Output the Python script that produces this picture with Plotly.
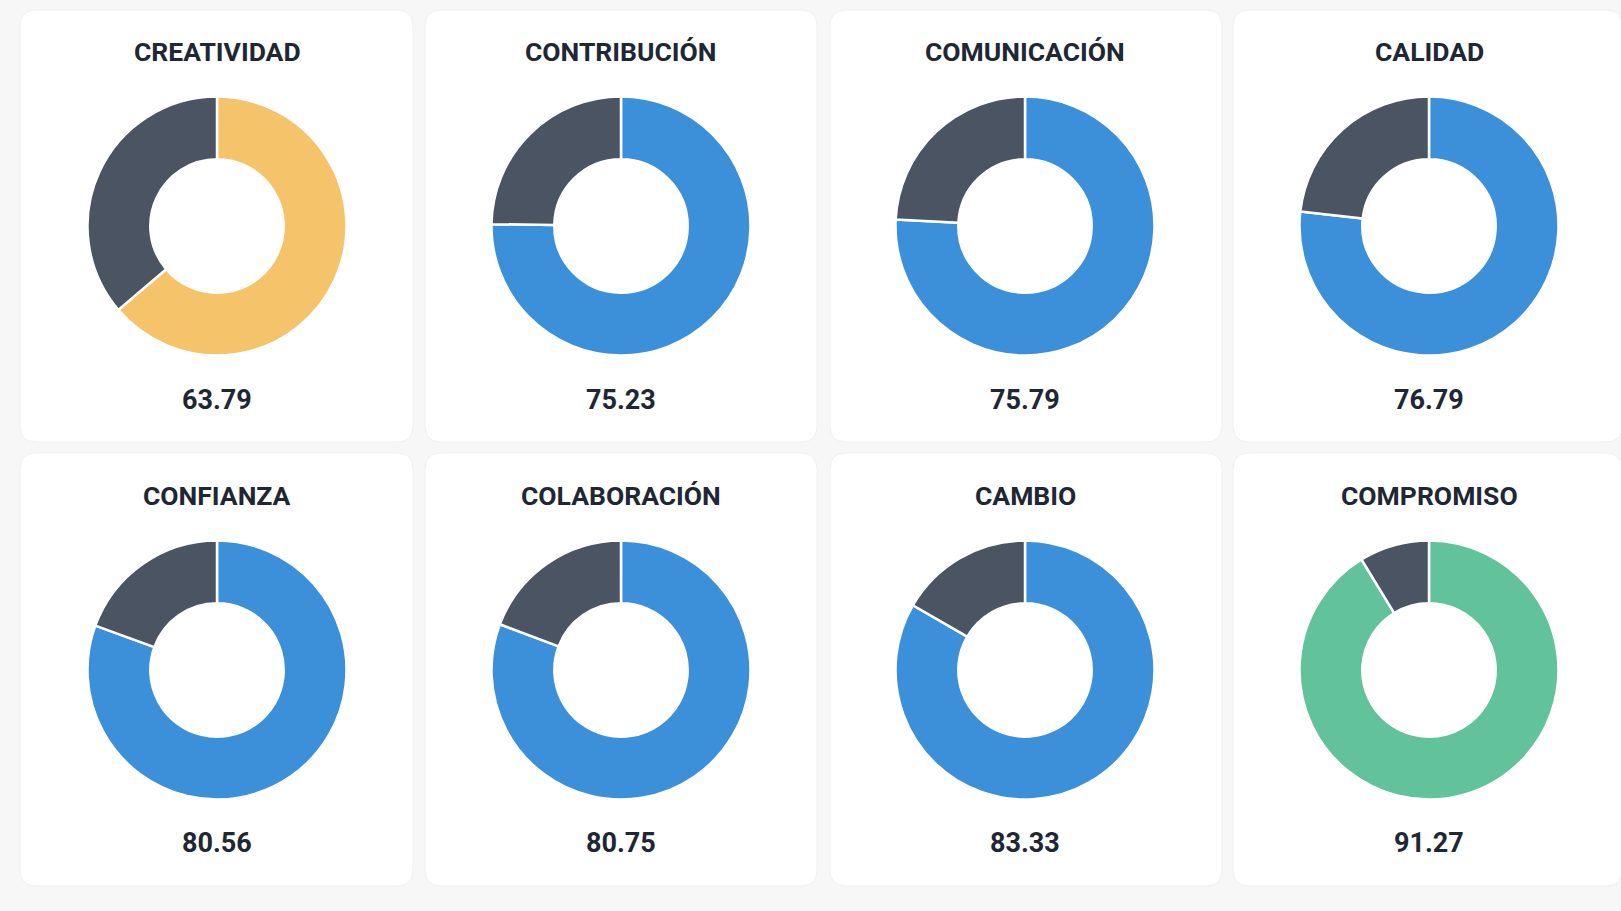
import plotly.graph_objects as go

W, H = 1621, 911

categories = ["CREATIVIDAD", "CONTRIBUCIÓN", "COMUNICACIÓN", "CALIDAD",
              "CONFIANZA", "COLABORACIÓN", "CAMBIO", "COMPROMISO"]
scores = [63.79, 75.23, 75.79, 76.79, 80.56, 80.75, 83.33, 91.27]
score_labels = ["63.79", "75.23", "75.79", "76.79", "80.56", "80.75", "83.33", "91.27"]
score_colors = ["#f5c46a", "#3b90d9", "#3b90d9", "#3b90d9",
                "#3b90d9", "#3b90d9", "#3b90d9", "#62c29c"]
rest_color = "#4a5462"

# layout (pixels)
card_left = [20, 425, 830, 1233]
card_right = [413, 817, 1222, 1622]
col_center = [217, 621, 1025, 1429]
row_top = [10, 453]
row_bottom = [442, 886]
title_y = [52, 495]
donut_cy = [226, 670]
value_y = [400, 843]
R = 129.5

def px(x):
    return x / W

def py(y):
    return 1 - y / H

fig = go.Figure()
shapes = []
annotations = []

def rounded_rect(x0, y0, x1, y1, r):
    return (f"M {px(x0 + r)},{py(y0)} L {px(x1 - r)},{py(y0)} "
            f"Q {px(x1)},{py(y0)} {px(x1)},{py(y0 + r)} "
            f"L {px(x1)},{py(y1 - r)} Q {px(x1)},{py(y1)} {px(x1 - r)},{py(y1)} "
            f"L {px(x0 + r)},{py(y1)} Q {px(x0)},{py(y1)} {px(x0)},{py(y1 - r)} "
            f"L {px(x0)},{py(y0 + r)} Q {px(x0)},{py(y0)} {px(x0 + r)},{py(y0)} Z")

for i, cat in enumerate(categories):
    r_i, c_i = divmod(i, 4)
    shapes.append(dict(
        type="path", xref="paper", yref="paper",
        path=rounded_rect(card_left[c_i], row_top[r_i], card_right[c_i], row_bottom[r_i], 16),
        fillcolor="#ffffff", line=dict(color="#f0f0f1", width=1), layer="below"))
    cx, cy = col_center[c_i], donut_cy[r_i]
    fig.add_trace(go.Pie(
        values=[scores[i], 100 - scores[i]],
        labels=["Puntuación", "Resto"],
        marker=dict(colors=[score_colors[i], rest_color], line=dict(color="#ffffff", width=2.5)),
        hole=0.515, sort=False, direction="clockwise", rotation=0,
        textinfo="none", hoverinfo="label+value", showlegend=False,
        domain=dict(x=[px(cx - R), px(cx + R)], y=[py(cy + R), py(cy - R)]),
    ))
    annotations.append(dict(
        x=px(cx), y=py(title_y[r_i]), xref="paper", yref="paper",
        text=f"<b>{cat}</b>", showarrow=False, xanchor="center", yanchor="middle",
        font=dict(family="Roboto", size=26.5, color="#1e2733")))
    annotations.append(dict(
        x=px(cx), y=py(value_y[r_i]), xref="paper", yref="paper",
        text=f"<b>{score_labels[i]}</b>", showarrow=False, xanchor="center", yanchor="middle",
        font=dict(family="Roboto", size=27, color="#1e2733")))

fig.update_layout(
    width=W, height=H,
    margin=dict(l=0, r=0, t=0, b=0),
    paper_bgcolor="#f7f7f8", plot_bgcolor="#f7f7f8",
    shapes=shapes, annotations=annotations,
)

fig.write_html(
    "out.html",
    config={"displayModeBar": False},
    post_script="document.body.style.margin='0';document.body.style.overflow='hidden';"
                "document.body.style.background='#f7f7f8';",
)
